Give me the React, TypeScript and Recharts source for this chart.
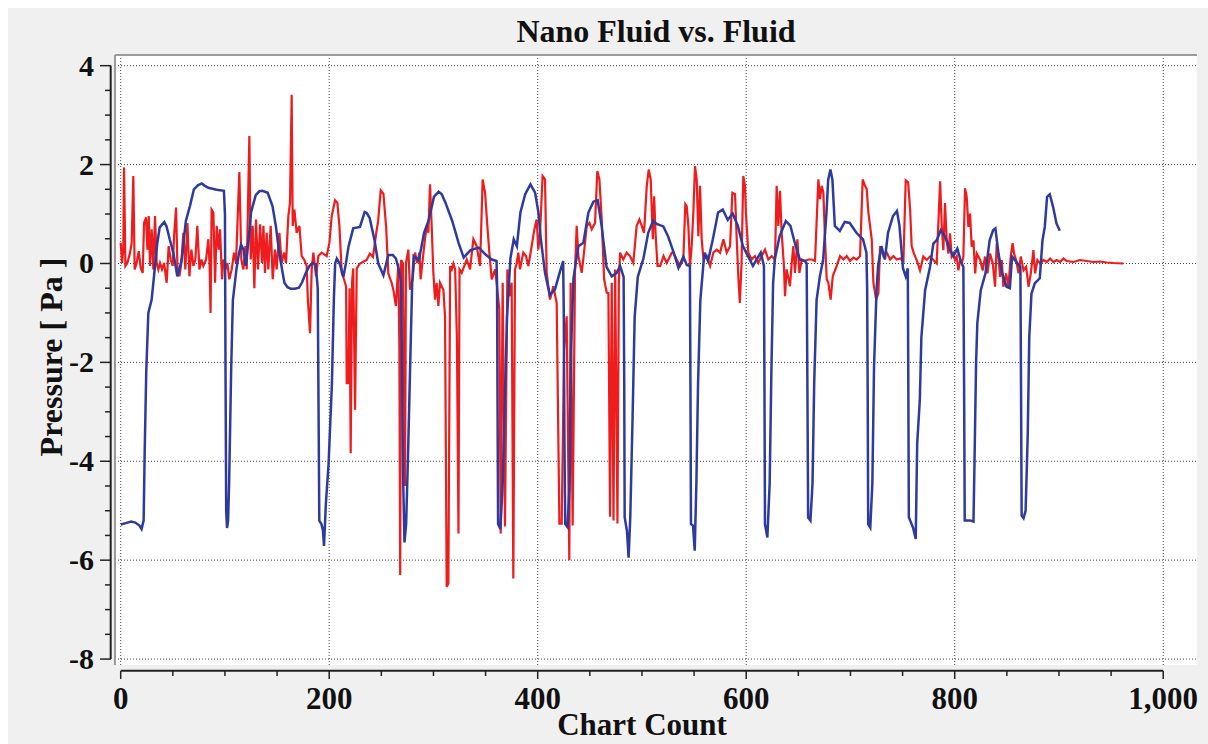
import { LineChart, Line, XAxis, YAxis, CartesianGrid, ReferenceLine } from "recharts";

// Chart Count vs Pressure [Pa]
const fluidPoints: [number, number][] = [
  [0, 0.42], [1.3, 0.01], [2.5, 0.28], [3.2, 1.94], [4.5, -0.05], [6.4, 0.01], [9, 0.22], [10.5, 0.42],
  [12.1, 1.77], [13.4, -0.12], [15.3, 0.01], [17.3, 0.25], [19.2, -0.09], [21.1, -0.19], [22.4, 0.82],
  [24.3, 0.93], [25.6, 0.28], [26.9, 0.96], [28.1, -0.05], [29.7, 0.69], [31.3, -0.12], [32.9, 0.96],
  [34.5, 0.01], [36.1, -0.12], [37.7, 0.01], [39.6, -0.12], [41.6, 0.01], [44.1, -0.39], [46, 0.35],
  [48, 0.08], [49.9, -0.05], [51.2, 0.55], [53.1, 1.13], [54.4, -0.05], [56.3, -0.26], [58.2, 0.01],
  [60.1, 0.62], [62, -0.12], [64, 0.82], [65.9, -0.26], [67.8, 0.28], [69.7, -0.05], [71.6, 0.08],
  [73.5, 0.76], [75.5, -0.12], [77.4, 0.08], [79.3, -0.05], [81.9, 0.08], [84.1, 0.49], [85.3, -0.05],
  [86.2, -1.0], [87.2, 1.09], [88.9, 1.03], [90.5, -0.39], [92.1, 0.76], [94, 0.28], [95.3, 0.69],
  [97.2, -0.32], [98.5, 0.08], [100.4, -0.12], [102.3, 0.01], [104.2, -0.32], [106.5, -0.12], [108.7, 0.22],
  [110.6, 0.01], [113.8, 1.85], [115.7, 0.08], [117.7, -0.12], [119.6, 0.35], [120.9, -0.12], [123.4, 2.58],
  [124.7, 0.08], [126.6, 0.76], [128.2, -0.5], [129.8, 0.89], [131.7, -0.12], [133.7, 0.79], [135.6, 0.01],
  [136.9, 0.76], [138.4, -0.19], [140, 0.62], [141.6, -0.12], [143.9, 0.76], [145.8, -0.32], [148, 0.28],
  [149.6, -0.12], [152.2, 0.62], [154.4, 0.01], [156.7, 0.22], [158.6, 0.01], [160.8, 0.96], [162.4, 1.23],
  [164, 3.41], [165, 0.76], [166.6, 1.09], [168.8, 0.62], [171.4, 0.76], [173.6, 0.15], [175.9, 0.08],
  [178.4, -0.05], [179.5, -0.73], [181.6, -1.41], [183.2, -0.12], [184.8, 0.22], [187.4, -0.26],
  [189.6, 0.15], [192.8, 0.22], [197.6, 0.15], [200.2, 0.42], [202.4, 0.96], [205.6, 1.28], [207.8, 1.23],
  [209.8, 0.76], [212, -0.19], [214.2, -0.32], [216.2, -0.47], [216.8, -2.42], [218.4, -2.42], [219.5, -0.5],
  [220.6, -3.84], [221.9, -0.39], [223, -0.1], [224.8, -2.96], [226.4, -0.1], [229.5, 0], [236, 0.07],
  [239, 0.2], [242, 0.13], [245, 0.6], [247, 0.87], [249.4, 1.48], [252, 1.41], [254.6, 0.74],
  [256.7, -0.2], [260, -0.4], [261.5, -0.53], [264, -0.86], [266.3, 0], [267.3, -1.7], [268.1, -6.3],
  [269, 0.07], [270.7, 0], [272.7, -4.5], [273.6, 0], [275.9, 0.28], [277.5, -0.53], [280, -0.32],
  [282.3, 0.22], [284.5, 0.01], [286.5, 0.22], [287.7, -0.32], [289.7, 0.08], [291.9, 0.49], [293.5, 0.76],
  [295.1, 0.62], [296.7, 1.6], [298.3, 0.76], [299.9, -0.19], [301.5, -0.73], [303.1, -0.39], [304.7, -0.86],
  [306.3, -0.39], [309.5, -0.53], [311.1, -1.07], [312.7, -6.54], [314.3, -6.47], [316, -0.05],
  [317.6, -0.12], [319.1, 0], [320.8, -0.12], [322.5, -1.5], [324, -5.46], [325, -0.12], [327.1, -0.19],
  [331.9, 0.08], [335.1, -0.12], [338.3, 0.49], [341.5, 0.35], [344.7, -0.05], [347.2, 1.7], [349.5, 1.43],
  [351.7, 0.76], [353.6, 0.22], [355.9, -0.32], [359.1, -0.12], [360.6, -0.39], [363.2, -0.93],
  [364.5, -5.46], [366.4, -0.39], [368.6, -5.32], [370.9, -0.12], [372.8, -0.66], [375, -0.39],
  [376.6, -6.37], [378.2, -0.12], [379.8, 0], [381.4, 0.22], [383, -0.12], [386.2, 0.22], [388.8, 0.15],
  [391, -0.05], [394.2, 0.35], [396.8, 0.69], [399, 0.89], [400.6, 0.28], [402.2, 0.62], [404.7, 1.77],
  [407, 1.7], [408.6, -0.19], [411.8, -0.73], [415, -0.46], [418.2, -0.8], [420.8, -5.26], [423, -5.26],
  [425.3, -1.76], [427.8, -1.07], [430.3, -6.0], [431.6, -0.39], [433.5, -5.3], [435.8, -0.12],
  [437.4, 0.76], [439, 0.15], [442.2, -0.19], [444.4, 0.22], [447, 0.76], [449.6, 0.82], [451.8, 0.69],
  [455, 0.82], [457.2, 1.87], [459.2, 1.7], [461.4, 0.89], [463.7, -0.32], [466.2, -0.59], [467.8, -0.6],
  [469.4, -5.12], [471, -0.39], [472.7, -5.2], [474.3, -0.12], [476.5, -5.26], [477.8, -0.39], [479, 0.22],
  [482.1, 0.08], [485.3, 0.22], [488.5, 0.15], [491.7, 0.01], [494.9, 0.76], [497.5, 0.89], [499.8, 0.76],
  [502, 0.62], [504.6, 1.57], [506.5, 1.9], [508.4, 1.7], [510.4, 0.49], [511.7, 1.36], [513, 0.62],
  [514.9, -0.05], [517.5, -0.05], [520.7, 0.15], [523.7, 0.01], [528.7, 0.22], [530, 0.22], [533.3, 0.08],
  [536.5, -0.05], [539.7, 0.08], [541.6, 1.2], [542.9, 1.16], [544.5, 0.76], [546.1, -0.05], [547.7, 0.35],
  [549.3, 1.03], [550.9, 1.97], [552.5, 1.7], [554.1, 0.55], [555.7, 1.57], [557.3, 0.49], [559, 0.08],
  [562.2, 0.15], [565.4, -0.05], [568.5, 0.22], [571.7, 0.28], [574.9, 0.22], [578.1, 0.49], [581.3, 0.22],
  [584.5, 0.35], [586.7, 1.43], [589.3, 1.4], [590.9, 0.49], [592.5, -0.3], [593.9, -0.8], [595.5, 0],
  [597.2, 1.77], [598.8, 1.57], [599.7, 1.03], [602, 0.22], [605.2, 0.08], [608.4, 0.15], [611.6, 0.01],
  [614.8, 0.15], [618, 0.28], [621.2, 0.08], [624.4, 0.15], [627.6, 0.08], [629.2, 1.57], [630.8, 0.76],
  [632.4, 1.47], [634, 0.62], [636.2, -0.05], [637.2, -0.66], [638.8, -0.12], [642, -0.46], [643.6, 0],
  [645.2, 0.35], [646.8, -0.19], [649.1, 0.49], [651, -0.19], [653.3, 0.08], [656.4, 0.05], [659.6, 0.08],
  [662.8, 0.08], [666, 0.05], [669.2, 1.7], [670.8, 1.3], [672.4, 1.57], [674, 1.43], [675.6, 0.49],
  [677.2, -0.32], [678.8, -0.39], [681, -0.73], [683, -0.26], [686.8, -0.05], [690, 0.15], [693.2, 0.08],
  [696.4, 0.15], [699.6, 0.05], [702.8, 0.12], [706, 0.08], [709.2, 0.15], [711.7, 1.7], [714, 1.57],
  [715.6, 1.5], [717.2, 1.03], [718.8, 0.76], [720.4, 0.49], [722, -0.39], [724.6, -0.73], [726.8, -0.6],
  [728.4, 0.35], [731.6, 0.15], [734.8, 0.22], [738, 0.08], [741.2, 0.15], [744.4, 0.08], [747.6, 0.1],
  [750.8, 0.05], [753, 1.68], [755.3, 1.64], [757.2, 1.1], [758.7, 0.35], [760.9, 0.2], [763.5, 0.07],
  [766.7, -0.14], [769.9, 0.14], [773.1, 0.07], [776.3, 0.14], [779.5, 0.07], [782.7, 0], [786, 1.66],
  [787.6, 0.74], [789.1, 0.27], [790.7, 1.22], [792.3, 0.47], [793.9, 0.2], [795.5, 0.61], [797.1, 0.14],
  [798.7, 0.2], [800.3, 0.07], [801.9, 0.14], [803.5, -0.14], [805.2, 0.07], [806.8, 0], [808.3, 0.14],
  [809.9, 1.52], [811.5, 1.35], [813.1, 0.74], [814.7, 1.01], [816.3, 0.34], [818, 0.47], [819.6, -0.2],
  [821.2, 0.2], [824.4, 0.07], [826.9, -0.14], [829.1, 0.14], [831.4, -0.2], [833.9, 0.2], [836.5, 0],
  [838.7, -0.47], [840.3, 0.41], [841.9, 0.14], [843.5, -0.27], [845.1, 0.07], [846.7, -0.47], [849.3, -0.2],
  [851.5, -0.47], [853.7, 0.14], [855.6, 0.41], [856.9, 0.2], [858.9, 0.07], [861.2, -0.2], [863.4, 0.14],
  [866, -0.14], [868.5, -0.07], [870.8, -0.47], [873, -0.2], [875.5, 0.27], [877.1, -0.2], [879.3, 0.07],
  [881.9, 0], [885.1, 0.07], [888.3, 0.03], [891.5, 0.1], [894.7, 0.03], [897.9, 0.07], [901.1, 0.03],
  [904.3, 0.1], [907.4, 0.05], [913.9, 0.03], [920.2, 0.07], [926.6, 0.05], [933, 0.03], [939.3, 0.04],
  [945.7, 0.02], [952.2, 0.01], [961.8, 0],
];

const nanoFluidPoints: [number, number][] = [
  [0, -5.28], [5, -5.25], [10, -5.22], [14, -5.24], [18, -5.3], [20, -5.37], [22, -5.2], [23, -3.8],
  [24.5, -2.2], [26.5, -1.0], [29.7, -0.73], [32.6, -0.12], [35, 0.4], [37.4, 0.73], [41.8, 0.84], [44, 0.75],
  [47, 0.49], [50.5, 0.22], [54.3, -0.26], [56, -0.15], [58.5, 0.08], [62.5, 0.86], [66.4, 1.16], [70.2, 1.5],
  [74, 1.58], [77.6, 1.62], [80, 1.58], [84, 1.53], [88, 1.51], [92, 1.49], [99, 1.47], [100, 1.0],
  [100.5, -2], [101.2, -5.0], [102, -5.35], [103, -5.2], [104, -4.45], [106, -2.1], [107.6, -0.74],
  [111, -0.12], [113, 0.15], [115.4, 0.38], [117.8, 0.28], [120, -0.05], [122.7, 0.49], [125, 1.03],
  [129.5, 1.38], [133, 1.46], [136, 1.47], [141, 1.43], [145.6, 1.16], [148.8, 0.76], [152, 0.22],
  [157, -0.39], [160, -0.48], [163, -0.51], [167, -0.51], [171, -0.49], [174, -0.38], [177.6, -0.19],
  [181, -0.05], [184, 0.01], [187, -0.02], [189, -0.5], [189.8, -3], [190.5, -5.2], [192.5, -5.27],
  [194, -5.4], [195, -5.71], [196.8, -4.86], [199.4, -4.05], [202.6, -2.43], [204.5, -0.7], [205.7, 0],
  [207.3, 0.1], [210, 0], [213.6, -0.27], [216, 0], [218.5, 0.34], [223, 0.71], [229.5, 0.74], [234, 1.04],
  [236, 1.02], [238.8, 0.92], [243.5, 0.47], [247, 0], [252, -0.24], [256.7, 0.17], [261, 0.17], [264, 0.1],
  [266.5, -0.1], [268, -0.26], [269, -0.4], [270, -2.5], [271, -4.45], [272.2, -5.64], [273.8, -5.26],
  [275.7, -3.8], [278, -1.76], [279.6, -0.4], [281, 0.15], [286, 0.06], [291, 0.62], [295.5, 0.88],
  [300.5, 1.35], [305, 1.45], [308, 1.4], [311.5, 1.23], [318, 0.86], [324, 0.42], [329, 0.12],
  [335.6, 0.27], [343.5, 0.32], [350, 0.18], [356, 0.08], [360.5, 0.05], [361, -0.4], [361.5, -3],
  [362, -5.27], [364.2, -5.37], [366.4, -4.45], [368.4, -2.77], [370.6, -1.08], [373.8, 0.1], [377, 0.49],
  [380, 0.35], [383.4, 1.03], [388, 1.4], [393, 1.6], [397.5, 1.43], [400.7, 1.03], [403, 0.49],
  [407, -0.19], [411.6, -0.64], [416.5, -0.53], [421, -0.19], [424.4, 0.05], [425, -1.0], [425.6, -3.5],
  [426.4, -5.27], [428.6, -5.33], [430.6, -4.45], [432, -1.76], [434.3, -0.3], [439, 0.35], [443.8, 0.42],
  [448.6, 1.03], [453.4, 1.25], [457.5, 1.28], [461.3, 0.76], [466, -0.07], [471, -0.26], [475.8, -0.19],
  [479, -0.05], [482.4, -0.27], [483, -2.5], [483.4, -5.13], [485.6, -5.41], [487.2, -5.95], [488.8, -5.13],
  [491, -3.11], [493, -1.08], [496, -0.27], [501.4, 0.1], [506, 0.62], [510.7, 0.86], [514, 0.8],
  [520.5, 0.75], [525, 0.55], [530, 0.25], [535, -0.09], [539.7, 0.14], [543, -0.03], [546, -0.05],
  [546.5, -2.5], [547, -5.27], [549, -5.3], [550.6, -5.81], [552.2, -4.45], [553.8, -2.43], [556, -0.74],
  [559, 0], [560.2, 0.22], [563.4, 0.05], [568, 0.49], [573, 1.03], [577.5, 1.09], [582.3, 0.88],
  [587, 1.01], [592, 0.76], [596.8, 0.35], [601.6, 0.15], [606.4, -0.05], [610, 0.08], [614, 0.22],
  [617, -0.05], [617.5, -2.5], [618, -5.27], [620.3, -5.54], [622.5, -4.45], [624.2, -2.1], [625.8, -0.4],
  [627.4, 0.08], [632, 0.55], [638, 0.86], [642.4, 0.76], [646.6, 0.42], [651.4, 0.08], [656.2, 0.05],
  [658, 0], [658.7, -2.5], [659.4, -5.14], [661.6, -5.2], [663.6, -4.45], [665.2, -2.43], [667.5, -0.74],
  [670.6, -0.27], [673.8, 0.08], [677, 1.03], [678.6, 1.69], [680.8, 1.9], [682.7, 1.69], [685, 0.76],
  [689.8, 0.66], [694.5, 0.84], [699.3, 0.82], [705.7, 0.62], [712, 0.49], [715.3, 0.22], [716, -0.5],
  [716.5, -2.5], [717, -5.27], [719, -5.34], [721, -4.45], [722.6, -2.1], [725, -0.55], [726.5, -0.05],
  [729.7, 0.35], [733, 0.08], [736, 0.62], [740.8, 0.96], [744.6, 1.06], [747, 0.76], [750.4, -0.1],
  [753, -0.26], [755, -0.1], [755.5, -2.5], [756, -5.13], [760, -5.34], [762.6, -5.57], [764, -3.64],
  [766.5, -2.77], [768, -1.5], [771.6, -0.54], [776.3, -0.07], [779.5, 0.4], [782.7, 0.47], [786.6, 0.67],
  [790.7, 0.55], [795.5, 0.27], [798.7, 0.15], [802.5, 0.3], [805.8, 0.05], [808.3, -0.07], [809, -2.5],
  [809.6, -5.2], [815, -5.2], [818, -5.22], [819, -4], [820.5, -2], [821.7, -1.2], [825, -0.54],
  [829.5, -0.2], [833.5, 0.47], [836.8, 0.67], [839, 0.71], [842, 0.2], [845.5, -0.2], [849.7, -0.47],
  [852.9, -0.5], [855, 0.14], [858, 0.06], [863, -0.07], [863.6, -2.5], [864.2, -5.1], [866, -5.15],
  [868, -5.0], [870, -3.5], [871.5, -1.5], [873.6, -0.61], [876.8, -0.4], [881.6, -0.3], [884.2, 0.47],
  [886.4, 0.74], [888.6, 1.35], [891.2, 1.4], [894.4, 1.14], [897.6, 0.81], [900.8, 0.66],
];

const xTicks = [0, 50, 100, 150, 200, 250, 300, 350, 400, 450, 500, 550, 600, 650, 700, 750, 800, 850, 900, 950, 1000];
const xGrid = [0, 200, 400, 600, 800, 1000];
const yTicks = [-8, -7.5, -7, -6.5, -6, -5.5, -5, -4.5, -4, -3.5, -3, -2.5, -2, -1.5, -1, -0.5, 0, 0.5, 1, 1.5, 2, 2.5, 3, 3.5, 4];
const yGrid = [-8, -6, -4, -2, 0, 2, 4];

const fluidData = fluidPoints.map(([count, pressure]) => ({ count, pressure }));
const nanoFluidData = nanoFluidPoints.map(([count, pressure]) => ({ count, pressure }));

const X_DOMAIN: [number, number] = [-5.47, 1032.4];
const Y_DOMAIN: [number, number] = [-8.12, 4.216];
const FONT = '"Liberation Serif", "Times New Roman", serif';

const YTick = (props: any) => {
  const { x, y, payload } = props;
  const v = payload.value;
  const major = Math.abs(v % 2) < 1e-9;
  return (
    <g>
      <line x1={x - 4} x2={x - (major ? 15 : 10)} y1={y} y2={y} stroke="#222" strokeWidth={1.5} />
      {major && (
        <text x={x - 21} y={y + 10} textAnchor="end" fontFamily={FONT} fontWeight="bold" fontSize={30} fill="#111">
          {v}
        </text>
      )}
    </g>
  );
};

const XTick = (props: any) => {
  const { x, y, payload } = props;
  const v = payload.value;
  const major = v % 200 === 0;
  return (
    <g>
      <line x1={x} x2={x} y1={y + 6} y2={y + (major ? 14 : 11)} stroke="#222" strokeWidth={1.5} />
      {major && (
        <text x={x} y={y + 44} textAnchor="middle" fontFamily={FONT} fontWeight="bold" fontSize={31} fill="#111">
          {v.toLocaleString("en-US")}
        </text>
      )}
    </g>
  );
};

const App = () => {
  return (
    <div style={{ position: "absolute", left: 8, top: 8, width: 1200, height: 736, background: "#f0f0f0" }}>
      <LineChart width={1200} height={736} margin={{ top: 47, right: 11, left: 17, bottom: 9 }}>
        <CartesianGrid
          fill="#ffffff"
          stroke="#444"
          strokeDasharray="1 2"
          horizontalValues={yGrid}
          verticalValues={xGrid}
        />
        <XAxis
          type="number"
          dataKey="count"
          domain={X_DOMAIN}
          allowDataOverflow
          ticks={xTicks}
          interval={0}
          height={70}
          axisLine={false}
          tickLine={false}
          tickSize={0}
          tickMargin={0}
          tick={<XTick />}
        />
        <YAxis
          type="number"
          domain={Y_DOMAIN}
          allowDataOverflow
          ticks={yTicks}
          interval={0}
          width={90}
          axisLine={false}
          tickLine={false}
          tickSize={0}
          tickMargin={0}
          tick={<YTick />}
        />
        <ReferenceLine y={Y_DOMAIN[1]} stroke="#9a9a9a" strokeWidth={2} ifOverflow="visible" />
        <ReferenceLine x={X_DOMAIN[0]} stroke="#9a9a9a" strokeWidth={2} ifOverflow="visible" />
        <ReferenceLine
          segment={[{ x: -9.6, y: -8 }, { x: -9.6, y: 4 }]}
          stroke="#222"
          strokeWidth={2}
          ifOverflow="visible"
        />
        <ReferenceLine
          segment={[{ x: 0, y: -8.235 }, { x: 1000, y: -8.235 }]}
          stroke="#222"
          strokeWidth={2}
          ifOverflow="visible"
        />
        <Line
          data={fluidData}
          dataKey="pressure"
          type="linear"
          stroke="#ee1c1c"
          strokeWidth={2.2}
          dot={false}
          isAnimationActive={false}
        />
        <Line
          data={nanoFluidData}
          dataKey="pressure"
          type="linear"
          stroke="#2e3b9e"
          strokeWidth={2.5}
          dot={false}
          isAnimationActive={false}
        />
      </LineChart>
      <svg
        width={1200}
        height={736}
        style={{ position: "absolute", left: 0, top: 0, pointerEvents: "none" }}
      >
        <text x={648} y={34} textAnchor="middle" fontFamily={FONT} fontWeight="bold" fontSize={32} fill="#111">
          Nano Fluid vs. Fluid
        </text>
        <text
          transform="translate(54, 349) rotate(-90)"
          textAnchor="middle"
          fontFamily={FONT}
          fontWeight="bold"
          fontSize={32}
          fill="#111"
        >
          Pressure [ Pa ]
        </text>
        <text x={634} y={727} textAnchor="middle" fontFamily={FONT} fontWeight="bold" fontSize={31} fill="#111">
          Chart Count
        </text>
      </svg>
    </div>
  );
};

export default App;
